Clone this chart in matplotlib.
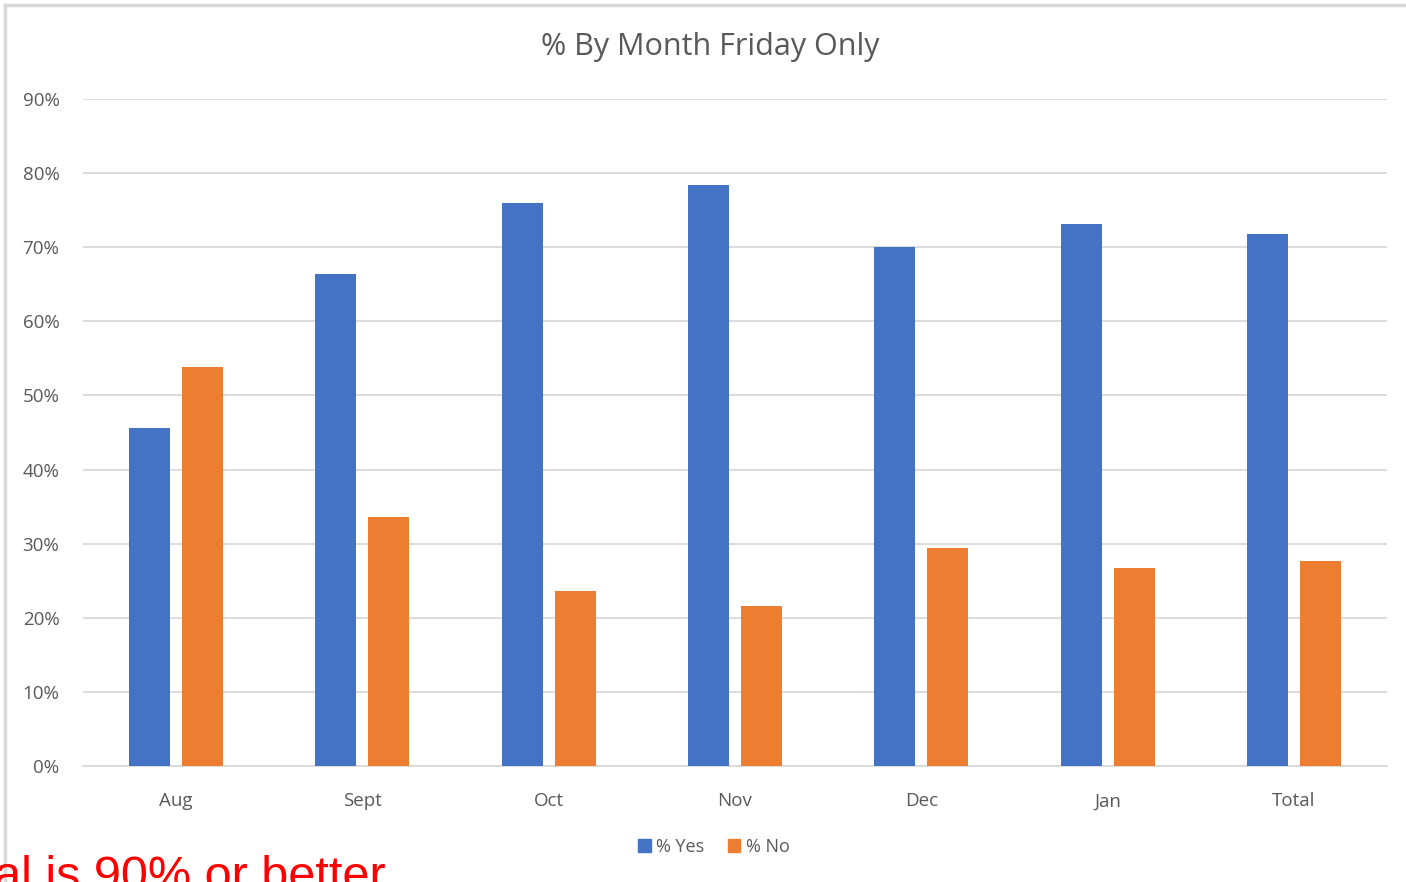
import numpy as np
import matplotlib.pyplot as plt
from matplotlib.patches import Rectangle
from matplotlib.lines import Line2D

# === Data ===
months = ["Aug", "Sept", "Oct", "Nov", "Dec", "Jan", "Total"]
pct_yes = [45.6, 66.4, 76.0, 78.4, 70.0, 73.1, 71.8]
pct_no = [53.8, 33.6, 23.6, 21.6, 29.4, 26.7, 27.7]
y_ticks = [0, 10, 20, 30, 40, 50, 60, 70, 80, 90]

BLUE = "#4472c4"
ORANGE = "#ed7d31"
GRID = "#d9d9d9"
TEXT = "#595959"

plt.rcParams['font.family'] = ['Open Sans', 'DejaVu Sans']

fig = plt.figure(figsize=(14.06, 8.82), dpi=100)
W, H = 1406, 882

# chart frame (top and left edges visible)
fig.add_artist(Line2D([5 / W, 1.0], [1 - 5 / H, 1 - 5 / H], color=GRID, lw=2.5))
fig.add_artist(Line2D([5 / W, 5 / W], [0, 1 - 5 / H], color=GRID, lw=2.5))

ax = fig.add_axes([83 / W, 1 - 766 / H, (1387 - 83) / W, (766 - 99) / H])

x = np.arange(len(months))
width = 0.22
offset = 0.142
ax.bar(x - offset, pct_yes, width, color=BLUE, label="% Yes", zorder=3)
ax.bar(x + offset, pct_no, width, color=ORANGE, label="% No", zorder=3)

ax.set_xlim(-0.5, len(months) - 0.5)
ax.set_ylim(0, 90)
ax.set_yticks(y_ticks)
ax.set_yticklabels([f"{t}%" for t in y_ticks], color=TEXT, fontsize=13.5)
ax.set_xticks(x)
ax.set_xticklabels(months, color=TEXT, fontsize=13.5)
ax.tick_params(length=0)
ax.tick_params(axis="y", pad=17)
ax.tick_params(axis="x", pad=19)
ax.yaxis.grid(True, color=GRID, lw=1.3, zorder=0)
for side in ["top", "right", "left"]:
    ax.spines[side].set_visible(False)
ax.spines["bottom"].set_color(GRID)
ax.spines["bottom"].set_linewidth(1.3)

fig.text(710 / W, 1 - 47 / H, "% By Month Friday Only", ha="center", va="center",
         fontsize=22, color=TEXT)

# legend below the axis
handles = [Rectangle((0, 0), 1, 1, color=BLUE), Rectangle((0, 0), 1, 1, color=ORANGE)]
fig.legend(handles, ["% Yes", "% No"], loc="center", bbox_to_anchor=(714 / W, 1 - 847 / H),
           ncol=2, frameon=False, fontsize=13, handlelength=0.7, handleheight=0.7,
           handletextpad=0.3, columnspacing=1.3, labelcolor=TEXT)

fig.text(-6 / W, -8 / H, "al is 90% or better", ha="left", va="baseline",
         fontsize=35, color="#ff0000", family="Liberation Sans")

fig.savefig("out.png", dpi=100)
